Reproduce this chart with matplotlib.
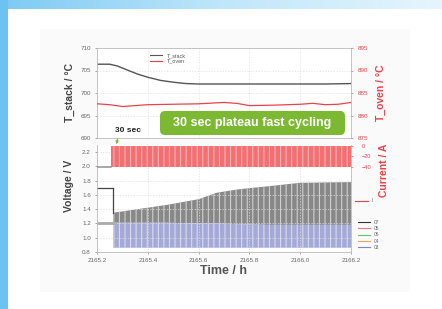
import numpy as np
import matplotlib
matplotlib.use("Agg")
import matplotlib.pyplot as plt
from matplotlib.patches import Rectangle, FancyBboxPatch
from matplotlib.lines import Line2D

plt.rcParams['font.family'] = ['Liberation Sans', 'DejaVu Sans']
plt.rcParams['hatch.linewidth'] = 0.8

# ---- data ----
time_stack = [2165.20, 2165.25, 2165.28, 2165.32, 2165.36, 2165.40, 2165.45,
              2165.50, 2165.55, 2165.60, 2165.70, 2165.80, 2165.90, 2166.00,
              2166.10, 2166.20]
t_stack = [706.4, 706.4, 706.0, 705.1, 704.2, 703.5, 702.8,
           702.4, 702.1, 702.0, 702.0, 702.0, 702.0, 702.0,
           702.0, 702.1]

time_oven = [2165.20, 2165.25, 2165.30, 2165.35, 2165.40, 2165.50, 2165.60,
             2165.70, 2165.75, 2165.80, 2165.90, 2166.00, 2166.05, 2166.10,
             2166.15, 2166.20]
t_oven = [882.6, 882.4, 882.0, 882.2, 882.4, 882.5, 882.6,
          882.9, 882.7, 882.2, 882.3, 882.5, 882.7, 882.4,
          882.5, 882.9]

# voltage cycling envelope (upper plateau, boundary, lower plateau)
time_cyc = [2165.263, 2165.34, 2165.475, 2165.60, 2165.67, 2165.76,
            2165.87, 2166.00, 2166.20]
v_upper = [1.35, 1.39, 1.46, 1.54, 1.63, 1.68, 1.72, 1.77, 1.78]
v_mid = [1.21, 1.21, 1.21, 1.20, 1.20, 1.19, 1.18, 1.18, 1.18]
v_low = [0.86, 0.86, 0.86, 0.86, 0.86, 0.86, 0.86, 0.86, 0.86]

time_pre = [2165.20, 2165.263]
v_pre = [1.70, 1.70]
v_ocv = [1.20, 1.20]

# current: idle then 30 s plateau cycling between 0 and -40 A
time_i_pre = [2165.20, 2165.255]
i_pre = [-40, -40]
time_i_cyc = [2165.255, 2166.20]
i_top = [0, 0]
i_bot = [-40, -40]

cells = ['07', '05', '06', '04', '03']
cell_colors = ['#333333', '#e87878', '#6fbf6f', '#f0a060', '#7f86b8']

fig = plt.figure(figsize=(4.42, 3.09), dpi=100)

# page decoration
bg = fig.add_axes([0, 0, 1, 1], zorder=-5)
bg.set_axis_off()
bg.set_xlim(0, 442)
bg.set_ylim(309, 0)
grad = np.linspace(0, 1, 256).reshape(1, -1)
bg.imshow(grad, extent=[0, 442, 9, 0], aspect='auto',
          cmap=matplotlib.colors.LinearSegmentedColormap.from_list(
              'b', ['#7dcaf3', '#bfe6fa', '#e6f5fd']))
bg.add_patch(Rectangle((0, 0), 8, 309, color='#6cc3f1', lw=0))
bg.add_patch(Rectangle((40, 29), 370, 263, color='#fafafa', lw=0))

L, W = 97 / 442, 254 / 442
xlim = (2165.2, 2166.2)
xticks = [2165.2, 2165.4, 2165.6, 2165.8, 2166.0, 2166.2]
grey = '#666666'
red = '#e8424a'


def style(ax):
    for s in ax.spines.values():
        s.set_color('#bbbbbb')
        s.set_linewidth(0.6)
    ax.tick_params(labelsize=4.5, colors=grey, length=1.5, width=0.4, pad=3)
    ax.grid(True, ls=(0, (2, 2)), color='#dddddd', lw=0.5)


# ---- top: temperatures ----
ax1 = fig.add_axes([L, 1 - 138 / 309, W, 90 / 309])
style(ax1)
ax1.plot(time_stack, t_stack, color='#555555', lw=1.0, label='T_stack')
ax1.set_xlim(*xlim)
ax1.set_xticks(xticks)
ax1.tick_params(axis='x', labelbottom=False, length=0)
ax1.set_ylim(690, 710)
ax1.set_yticks([690, 695, 700, 705, 710])
ax1.set_ylabel('T_stack / °C', fontsize=7.5, fontweight='bold', color='#444444', labelpad=4)

ax1r = ax1.twinx()
ax1r.plot(time_oven, t_oven, color=red, lw=0.9, label='T_oven')
ax1r.set_ylim(875, 895)
ax1r.set_yticks([875, 880, 885, 890, 895])
ax1r.tick_params(labelsize=4.5, colors=red, length=1.5, width=0.4, pad=3)
for s in ax1r.spines.values():
    s.set_visible(False)
ax1r.set_ylabel('T_oven / °C', fontsize=7.5, fontweight='bold', color=red, labelpad=6)

h = [Line2D([], [], color='#555555', lw=0.8), Line2D([], [], color=red, lw=0.8)]
ax1.legend(h, ['T_stack', 'T_oven'], loc='upper left', bbox_to_anchor=(0.19, 1.0),
           fontsize=4, frameon=False, handlelength=2.2, labelspacing=0.1,
           labelcolor='#555555')

# ---- bottom: voltage ----
ax2 = fig.add_axes([L, 1 - 252 / 309, W, 107 / 309])
style(ax2)
ax2.spines['top'].set_visible(False)
ax2.fill_between(time_cyc, v_mid, v_upper, facecolor='#888888',
                 edgecolor='#cfcfcf', hatch='|||', lw=0)
ax2.fill_between(time_cyc, v_low, v_mid, facecolor='#a4a9d6',
                 edgecolor='#d8dbf0', hatch='|||', lw=0)
ax2.plot(time_pre, v_pre, color='#444444', lw=0.9)
ax2.plot([time_pre[-1], time_pre[-1]], [v_pre[-1], v_upper[0]], color='#444444', lw=0.9)
ax2.plot(time_pre, v_ocv, color='#aaaaaa', lw=2.0)
ax2.set_xlim(*xlim)
ax2.set_xticks(xticks)
ax2.set_xticklabels(['2165.2', '2165.4', '2165.6', '2165.8', '2166.0', '2166.2'])
ax2.set_ylim(0.8, 2.3)
ax2.set_yticks([0.8, 1.0, 1.2, 1.4, 1.6, 1.8, 2.0, 2.2])
ax2.set_ylabel('Voltage / V', fontsize=7.5, fontweight='bold', color='#444444', labelpad=4)
ax2.set_xlabel('Time / h', fontsize=9, fontweight='bold', color='#555555', labelpad=1)
ax2.yaxis.set_label_coords(-0.09, 0.62)

hc = [Line2D([], [], color=c, lw=0.8) for c in cell_colors]
ax2.legend(hc, cells, loc='lower left', bbox_to_anchor=(1.01, -0.02),
           fontsize=3.5, frameon=False, handlelength=2.5, labelspacing=0.25,
           labelcolor='#666666')

# ---- current (overlay in top band of voltage axes) ----
ax3 = fig.add_axes([L, 1 - 168 / 309, W, 24 / 309])
ax3.patch.set_alpha(0)
ax3.fill_between(time_i_cyc, i_bot, i_top, facecolor='#f46f72',
                 edgecolor='#f9b5b5', hatch='|||', lw=0)
ax3.plot(time_i_pre, i_pre, color='#999999', lw=1.2)
ax3.set_xlim(*xlim)
ax3.set_ylim(-42, 3)
ax3.set_xticks([])
ax3.yaxis.tick_right()
ax3.set_yticks([0, -20, -40])
ax3.tick_params(axis='y', labelsize=4, colors=red, length=1.5, width=0.4, pad=6)
for s in ax3.spines.values():
    s.set_visible(False)
ax3.yaxis.set_label_position('right')
ax3.set_ylabel('Current / A', fontsize=7.5, fontweight='bold', color=red, labelpad=4)
ax3.yaxis.set_label_coords(1.11, -0.1)

hi = [Line2D([], [], color=red, lw=0.8)]
fig.legend(hi, ['I'], loc='center left', bbox_to_anchor=(351 / 442, 1 - 201 / 309),
           fontsize=3.5, frameon=False, handlelength=2.5, labelcolor='#666666')

# ---- annotations ----
box = FancyBboxPatch((160, 111), 185, 24, boxstyle='round,pad=0,rounding_size=5',
                     facecolor='#7cb832', edgecolor='none', transform=bg.transData,
                     zorder=10)
fig.add_artist(box)
fig.text(252 / 442, 1 - 123 / 309, '30 sec plateau fast cycling', color='white',
         fontsize=9, fontweight='bold', ha='center', va='center', zorder=11)
fig.text(128 / 442, 1 - 130 / 309, '30 sec', color='#222222', fontsize=6,
         fontweight='bold', ha='center', va='center', zorder=11)
bg.annotate('', xy=(116, 147), xytext=(118, 136),
            arrowprops=dict(arrowstyle='-|>', color='#7cb832', lw=0.8,
                            mutation_scale=4))

fig.savefig('out.png', dpi=100)
